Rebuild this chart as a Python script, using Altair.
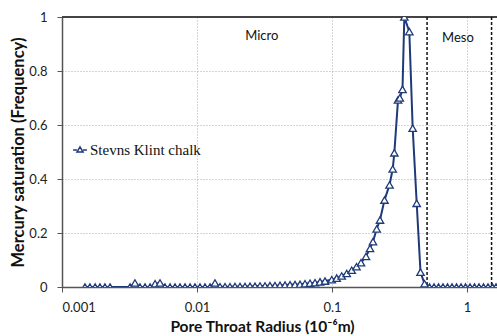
import altair as alt
import pandas as pd

radius = [0.00148, 0.00161, 0.00176, 0.00191, 0.00208, 0.00227,
          0.00319, 0.00347, 0.00378, 0.00412, 0.00449, 0.00489, 0.00532, 0.00579, 0.00631, 0.00687,
          0.00748, 0.00815, 0.00888, 0.00966, 0.01052, 0.01146, 0.01248, 0.01359, 0.0148, 0.01612,
          0.01755, 0.01911, 0.02082, 0.02267, 0.02469, 0.02689, 0.02929, 0.03189, 0.03473, 0.03782,
          0.04119, 0.04486, 0.04886, 0.05321, 0.05794, 0.0631, 0.06872, 0.07484, 0.0815, 0.08876,
          0.0995, 0.1083, 0.118, 0.1285, 0.1399, 0.1519, 0.164, 0.1786, 0.1912, 0.2012,
          0.2143, 0.2267, 0.2448, 0.2667, 0.2817, 0.2895, 0.3083, 0.3178, 0.3328, 0.3433,
          0.3738, 0.396, 0.424, 0.4524, 0.4845,
          0.5275, 0.5696, 0.6151, 0.6641, 0.7171, 0.7743, 0.836, 0.9027, 0.9747, 1.0524,
          1.1364, 1.227, 1.3248, 1.4305, 1.5446, 1.64]
saturation = [0, 0, 0, 0, 0, 0,
              0, 0.015, 0, 0, 0, 0.012, 0.015, 0, 0, 0,
              0, 0, 0, 0, 0, 0, 0, 0.015, 0.001, 0.001,
              0.001, 0.002, 0.002, 0.002, 0.003, 0.003, 0.004, 0.004, 0.005, 0.005,
              0.006, 0.007, 0.008, 0.009, 0.01, 0.012, 0.014, 0.016, 0.019, 0.022,
              0.027, 0.033, 0.041, 0.05, 0.062, 0.075, 0.09, 0.113, 0.143, 0.168,
              0.215, 0.248, 0.322, 0.378, 0.437, 0.497, 0.693, 0.70, 0.732, 1.0,
              0.946, 0.588, 0.31, 0.055, 0.012,
              0, 0, 0, 0, 0, 0, 0, 0, 0, 0,
              0, 0, 0, 0, 0, 0]
series_name = "Stevns Klint chalk"

boundaries = [0.506, 1.52]
zone_names = ["Micro", "Meso"]
zone_x = [0.0302, 0.857]
zone_y = [0.93, 0.922]

x_ticks = [0.001, 0.01, 0.1, 1]
y_ticks = [0, 0.2, 0.4, 0.6, 0.8, 1]

NAVY = "#1f3a7a"
FONT = "Lato"

df = pd.DataFrame({"radius": radius, "saturation": saturation, "series": series_name})
bounds = pd.DataFrame({"radius": boundaries})
zones = pd.DataFrame({"name": zone_names, "radius": zone_x, "saturation": zone_y})

xscale = alt.Scale(type="log", domain=[0.001, 1.6678], nice=False)
yscale = alt.Scale(domain=[0, 1], nice=False)

x_enc = alt.X("radius:Q", scale=xscale, axis=alt.Axis(
    values=x_ticks, format="~g", title="Pore Throat Radius (10⁻⁶m)",
    grid=True, gridDash=[1, 2], gridColor="#aaaaaa", gridWidth=1,
    domainColor="#555555", domainWidth=1.5, tickColor="#555555", tickSize=5,
    labelFont=FONT, labelFontSize=13, labelColor="#222222", labelPadding=9,
    titleFont=FONT, titleFontSize=15.5, titleFontWeight="bold", titleColor="#111111",
    titlePadding=5, titleX=200, titleAlign="center", titleAnchor="start"))
y_enc = alt.Y("saturation:Q", scale=yscale, axis=alt.Axis(
    values=y_ticks, format="~g", title="Mercury  saturation (Frequency)",
    grid=True, gridDash=[1, 2], gridColor="#aaaaaa", gridWidth=1,
    domainColor="#555555", domainWidth=1.5, tickColor="#555555", tickSize=5,
    labelFont=FONT, labelFontSize=13, labelColor="#222222", labelPadding=10,
    titleFont=FONT, titleFontSize=16.5, titleFontWeight="bold", titleColor="#111111", titlePadding=2))

base = alt.Chart(df)

line = base.mark_line(color=NAVY, strokeWidth=2, clip=True).encode(x=x_enc, y=y_enc)

points = base.mark_point(shape="triangle-up", filled=False, fill="white", fillOpacity=1,
                         opacity=1, strokeWidth=1.3, size=55, clip=True).encode(
    x="radius:Q", y="saturation:Q",
    color=alt.Color("series:N", scale=alt.Scale(range=[NAVY]), legend=alt.Legend(
        title=None, orient="none", legendX=10, legendY=125,
        symbolType="M-1,0L-0.45,0M0.45,0L1,0M-0.45,0.3L0,-0.45L0.45,0.3Z",
        symbolSize=190, symbolStrokeWidth=1.5, symbolFillColor="white", symbolOpacity=1,
        labelFont="Liberation Serif", labelFontSize=15, labelColor="#111111", labelOffset=2)))

top_border = alt.Chart(df).mark_rule(color="#444444", strokeWidth=1.5).encode(y=alt.datum(1))

dashes = alt.Chart(bounds).mark_rule(color="#111111", strokeWidth=1.5, strokeDash=[3, 2]).encode(
    x="radius:Q")

zone_text = alt.Chart(zones).mark_text(font=FONT, fontSize=13, color="#111111").encode(
    x="radius:Q", y="saturation:Q", text="name:N")

chart = alt.layer(top_border, dashes, line, points, zone_text).properties(
    width=435, height=270,
    autosize=alt.AutoSizeParams(type="none"),
    padding={"left": 62, "top": 17, "right": 0, "bottom": 49},
).configure_view(stroke=None).configure(background="white")

chart.save("out.html", embed_options={"renderer": "svg", "actions": False})
